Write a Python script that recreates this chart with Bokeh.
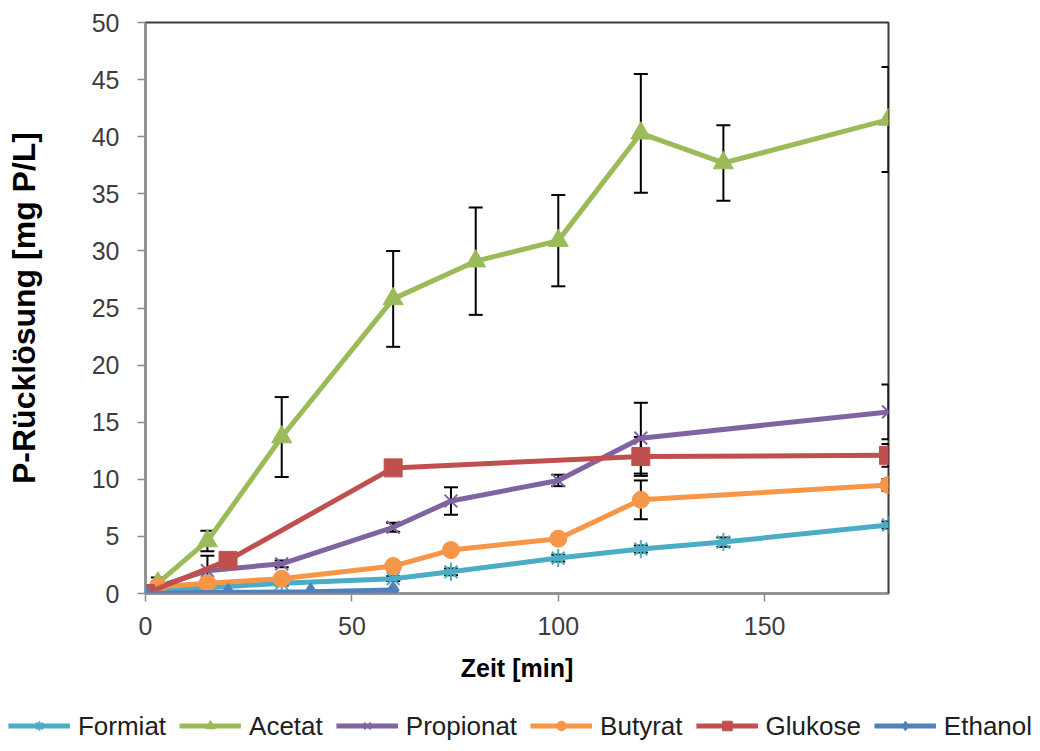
from bokeh.plotting import figure
from bokeh.layouts import column, row
from bokeh.models import (ColumnDataSource, Whisker, TeeHead, FixedTicker,
                          Legend, LegendItem)
from bokeh.embed import file_html
from bokeh.resources import INLINE

# ---------------- data ----------------
series_names = ["Formiat", "Acetat", "Propionat", "Butyrat", "Glukose", "Ethanol"]

formiat_t = [0, 3, 15, 33, 60, 74, 100, 120, 140, 180]
formiat_v = [0, 0.2, 0.5, 0.9, 1.3, 1.9, 3.1, 3.9, 4.5, 6.0]
formiat_e = [0, 0, 0.2, 0.2, 0.2, 0.3, 0.3, 0.3, 0.4, 0.3]

acetat_t = [0, 3, 15, 33, 60, 80, 100, 120, 140, 180]
acetat_v = [0, 0.9, 4.6, 13.7, 25.8, 29.1, 30.9, 40.3, 37.7, 41.5]
acetat_e = [0, 0.5, 0.9, 3.5, 4.2, 4.7, 4.0, 5.2, 3.3, 4.6]

propionat_t = [0, 3, 15, 33, 60, 74, 100, 120, 180]
propionat_v = [0, 0.6, 2.0, 2.6, 5.8, 8.1, 9.9, 13.6, 15.9]
propionat_e = [0, 0, 1.3, 0.3, 0.4, 1.2, 0.5, 3.1, 2.4]

butyrat_t = [0, 3, 15, 33, 60, 74, 100, 120, 180]
butyrat_v = [0, 0.6, 0.9, 1.3, 2.4, 3.8, 4.8, 8.2, 9.5]
butyrat_e = [0, 0, 0.3, 0.3, 0.2, 0.3, 0.3, 1.7, 0.5]

glukose_t = [0, 20, 60, 120, 180]
glukose_v = [0, 2.9, 11.0, 12.0, 12.1]
glukose_e = [0, 0.3, 0.3, 1.7, 1.0]

ethanol_t = [0, 20, 40, 60]
ethanol_v = [0, 0.1, 0.15, 0.3]
ethanol_e = [0, 0, 0, 0]

x_ticks = [0, 50, 100, 150]
y_ticks = [0, 5, 10, 15, 20, 25, 30, 35, 40, 45, 50]

x_title = "Zeit [min]"
y_title = "P-Rücklösung [mg P/L]"

# ---------------- styling ----------------
colors = ["#4BACC6", "#9BBB59", "#8064A2", "#F79646", "#C0504D", "#4F81BD"]
markers = ["asterisk", "triangle", "x", "circle", "square", "diamond"]
msizes = [18, 20, 18, 17, 18, 18]
FONT = "Liberation Sans"

p = figure(frame_width=743, frame_height=571, x_range=(0, 180), y_range=(0, 50),
           output_backend="svg", toolbar_location=None,
           min_border_left=145, min_border_right=152, min_border_top=22,
           min_border_bottom=107)
p.background_fill_color = "white"
p.border_fill_color = "white"
p.outline_line_color = "#3a3a3a"
p.outline_line_width = 2
p.xgrid.visible = False
p.ygrid.visible = False

for ax in (p.xaxis[0], p.yaxis[0]):
    ax.axis_line_color = "#8a8a8a"
    ax.axis_line_width = 1.5
    ax.major_tick_line_color = "#8a8a8a"
    ax.major_tick_line_width = 1.5
    ax.major_tick_in = 0
    ax.major_tick_out = 8
    ax.minor_tick_line_color = None
    ax.major_label_text_font = FONT
    ax.major_label_text_font_size = "25px"
    ax.major_label_text_color = "#3c3c3c"
    ax.axis_label_text_font = FONT
    ax.axis_label_text_font_style = "bold"
    ax.axis_label_text_color = "black"

p.xaxis.axis_label_text_font_size = "25px"
p.yaxis.axis_label_text_font_size = "32px"
p.xaxis.ticker = FixedTicker(ticks=x_ticks)
p.yaxis.ticker = FixedTicker(ticks=y_ticks)
p.xaxis.axis_label = x_title
p.yaxis.axis_label = y_title
p.xaxis.major_label_standoff = 15
p.xaxis.axis_label_standoff = 16
p.yaxis.major_label_standoff = 18
p.yaxis.axis_label_standoff = 47

all_t = [formiat_t, acetat_t, propionat_t, butyrat_t, glukose_t, ethanol_t]
all_v = [formiat_v, acetat_v, propionat_v, butyrat_v, glukose_v, ethanol_v]
all_e = [formiat_e, acetat_e, propionat_e, butyrat_e, glukose_e, ethanol_e]

# legend strip: a small figure below the chart that shares the series sources
# but looks at a range where no data lies, so only its legend is visible
lp = figure(frame_width=1040, frame_height=51, x_range=(-2, -1), y_range=(-2, -1),
            output_backend="svg", toolbar_location=None, min_border=0)
lp.axis.visible = False
lp.xgrid.visible = False
lp.ygrid.visible = False
lp.outline_line_color = None
lp.background_fill_color = "white"
lp.border_fill_color = "white"

items = []
whisker_data = []
for name, t, v, e, c, m, s in zip(series_names, all_t, all_v, all_e, colors, markers, msizes):
    src = ColumnDataSource(dict(t=t, v=v))
    p.line("t", "v", source=src, line_color=c, line_width=5)
    l1 = lp.line("t", "v", source=src, line_color=c, line_width=5)
    if m in ("asterisk", "x"):
        p.scatter("t", "v", source=src, marker=m, size=s, line_color=c, line_width=2)
        l2 = lp.scatter("t", "v", source=src, marker=m, size=s, line_color=c,
                        line_width=2)
    else:
        p.scatter("t", "v", source=src, marker=m, size=s, fill_color=c,
                  line_color=c, line_width=1)
        l2 = lp.scatter("t", "v", source=src, marker=m, size=s, fill_color=c,
                        line_color=c, line_width=1)
    items.append(LegendItem(label=name, renderers=[l1, l2]))
    tt = [a for a, b in zip(t, e) if b > 0]
    up = [a + b for a, b in zip(v, e) if b > 0]
    lo = [a - b for a, b in zip(v, e) if b > 0]
    whisker_data.append((tt, up, lo))

for tt, up, lo in whisker_data:
    wsrc = ColumnDataSource(dict(t=tt, up=up, lo=lo))
    w = Whisker(source=wsrc, base="t", upper="up", lower="lo",
                line_color="black", line_width=2,
                upper_head=TeeHead(size=14, line_color="black", line_width=2),
                lower_head=TeeHead(size=14, line_color="black", line_width=2))
    p.add_layout(w)

legend = Legend(items=items, orientation="horizontal", location="center",
                label_text_font=FONT, label_text_font_size="26px",
                label_text_color="#202020", glyph_width=62, glyph_height=24,
                spacing=13, label_standoff=8, padding=2, margin=0,
                border_line_color=None, background_fill_alpha=0)
lp.add_layout(legend)

layout = column(p, row(lp, spacing=0), spacing=0)
open("out.html", "w").write(file_html(layout, INLINE))
